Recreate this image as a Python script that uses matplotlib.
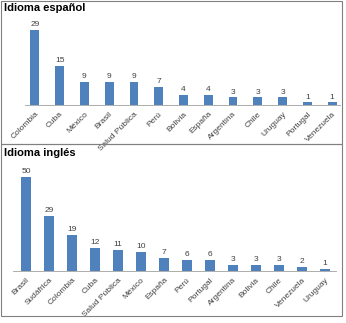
import matplotlib.pyplot as plt
from matplotlib.patches import Rectangle

# Data
es_countries = ['Colombia', 'Cuba', 'México', 'Brasil', 'Salud Pública', 'Perú', 'Bolivia',
                'España', 'Argentina', 'Chile', 'Uruguay', 'Portugal', 'Venezuela']
es_values = [29, 15, 9, 9, 9, 7, 4, 4, 3, 3, 3, 1, 1]

en_countries = ['Brasil', 'Sudáfrica', 'Colombia', 'Cuba', 'Salud Pública', 'México', 'España',
                'Perú', 'Portugal', 'Argentina', 'Bolivia', 'Chile', 'Venezuela', 'Uruguay']
en_values = [50, 29, 19, 12, 11, 10, 7, 6, 6, 3, 3, 3, 2, 1]

plt.rcParams['font.family'] = ['Liberation Sans', 'DejaVu Sans']
W, H = 346, 323
BAR = '#4F81BD'
fig = plt.figure(figsize=(W / 100, H / 100), dpi=100)


def px_axes(left, top, right, bottom):
    return fig.add_axes([left / W, (H - bottom) / H, (right - left) / W, (bottom - top) / H])


def draw_panel(ax, names, values, width, xlim, ylim):
    x = range(len(values))
    ax.bar(x, values, width=width, color=BAR)
    for i, v in zip(x, values):
        ax.text(i, v + ylim * 0.02, str(v), ha='center', va='bottom', fontsize=6, color='#404040')
    ax.set_xlim(*xlim)
    ax.set_ylim(0, ylim)
    ax.set_xticks(list(x))
    ax.set_xticklabels(names, rotation=45, ha='right', rotation_mode='anchor', fontsize=6,
                       color='#404040')
    ax.tick_params(axis='x', length=0, pad=4)
    ax.set_yticks([])
    for s in ['top', 'right', 'left']:
        ax.spines[s].set_visible(False)
    ax.spines['bottom'].set_color('#a0a0a0')
    ax.spines['bottom'].set_linewidth(0.6)


# panel frames
fig.patches.append(Rectangle((1 / W, (H - 144) / H), 341 / W, 143 / H, transform=fig.transFigure,
                             fill=False, edgecolor='#808080', linewidth=0.8))
fig.patches.append(Rectangle((1 / W, (H - 316) / H), 341 / W, 172 / H, transform=fig.transFigure,
                             fill=False, edgecolor='#808080', linewidth=0.8))

fig.text(4 / W, (H - 8) / H, 'Idioma español', fontsize=8, fontweight='bold', va='center')
fig.text(4 / W, (H - 153) / H, 'Idioma inglés', fontsize=8, fontweight='bold', va='center')

ax1 = px_axes(25, 20, 340, 105)
draw_panel(ax1, es_countries, es_values, 0.36, (-0.4, 12.32), 32.8)

ax2 = px_axes(13, 170, 336, 271)
draw_panel(ax2, en_countries, en_values, 0.4, (-0.565, 13.48), 53.7)

plt.savefig('out.png', dpi=100)
